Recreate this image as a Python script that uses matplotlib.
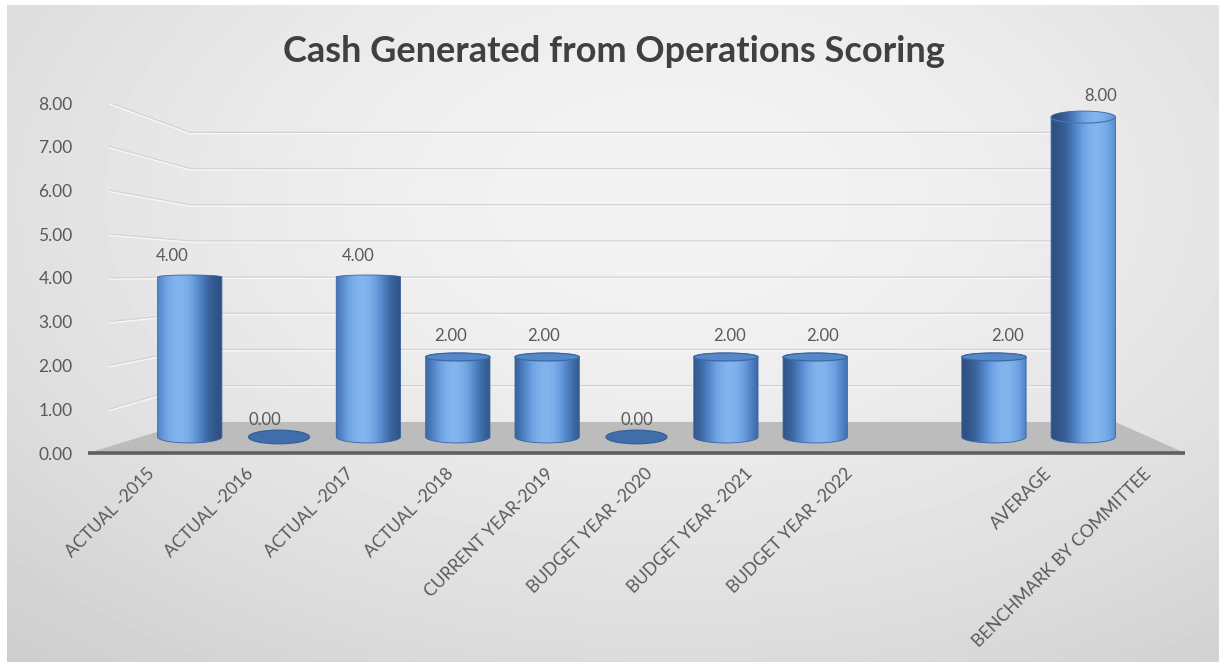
import numpy as np
import matplotlib
matplotlib.use("Agg")
import matplotlib.pyplot as plt
from matplotlib.path import Path
from matplotlib.patches import PathPatch, Polygon, Ellipse, Rectangle
from matplotlib.colors import LinearSegmentedColormap
import matplotlib.transforms as mtransforms

# ---- data -------------------------------------------------------------
categories = ["ACTUAL -2015", "ACTUAL -2016", "ACTUAL -2017", "ACTUAL -2018",
              "CURRENT YEAR-2019", "BUDGET YEAR -2020", "BUDGET YEAR -2021",
              "BUDGET YEAR -2022", "", "AVERAGE", "BENCHMARK BY COMMITTEE"]
scores = [4.0, 0.0, 4.0, 2.0, 2.0, 0.0, 2.0, 2.0, np.nan, 2.0, 8.0]
y_ticks = [0, 1, 2, 3, 4, 5, 6, 7, 8]
title = "Cash Generated from Operations Scoring"

FONT = ["Lato", "DejaVu Sans"]
TXT = "#595959"

W, H, DPI = 1219, 662, 100
fig = plt.figure(figsize=(W / DPI, H / DPI), dpi=DPI)

# ---- soft grey backdrop ----------------------------------------------
bg = fig.add_axes([0, 0, 1, 1], zorder=-10)
gx, gy = np.meshgrid(np.linspace(0, 1, 400), np.linspace(0, 1, 220))
r = np.sqrt(((gx - 0.55) / 0.75) ** 2 + ((gy - 0.30) / 0.85) ** 2)
shade = np.clip(0.955 - 0.13 * r ** 1.6, 0.80, 0.96)
bg.imshow(shade, cmap="gray", vmin=0, vmax=1, extent=[0, 1, 0, 1],
          origin="upper", aspect="auto", interpolation="bilinear")
bg.add_patch(Rectangle((0, 1 - 5 / H), 1, 5 / H, color="white", lw=0))
bg.add_patch(Rectangle((0, 0), 7 / W, 1, color="white", lw=0))
bg.set_xlim(0, 1)
bg.set_ylim(0, 1)
bg.axis("off")

# ---- main axes (front plane coordinates) -------------------------------
L, R, T, B = 88, 1185, 103, 453
ax = fig.add_axes([L / W, 1 - B / H, (R - L) / W, (B - T) / H])
ax.set_xlim(-0.5, len(categories) - 0.5)
ax.set_ylim(0, 8)
ax.patch.set_alpha(0)
for s in ax.spines.values():
    s.set_visible(False)

PX_Y = (B - T) / 8.0          # pixels per value unit on the front plane

# depth projection of the bar plane and the back wall onto the front plane
BAR_SX, BAR_CX = 0.896, 5.0
BAR_SY, BAR_CY = 0.914, 4.26
WALL_SY, WALL_CY = 0.827, 4.1
WALL_X0, WALL_X1 = 0.523, 9.80
SIDE_X = -0.28
EYE = 4.0


def bar_x(i):
    return BAR_CX + (i - BAR_CX) * BAR_SX


def bar_y(v):
    return BAR_CY + (v - BAR_CY) * BAR_SY


def wall_y(v):
    return WALL_CY + (v - WALL_CY) * WALL_SY


# back wall and left side wall gridlines
for v in y_ticks[1:]:
    yw = wall_y(v)
    ax.plot([SIDE_X, WALL_X0, WALL_X1], [v, yw, yw], color="#d2d2d2",
            lw=1.1, zorder=1, solid_capstyle="butt")
    ax.plot([SIDE_X, WALL_X0, WALL_X1], [v - 1.2 / PX_Y, yw - 1.2 / PX_Y, yw - 1.2 / PX_Y],
            color="#f7f7f7", lw=1.0, zorder=1)

# floor
floor = Polygon([(-0.5, 0), (WALL_X0, wall_y(0)), (WALL_X1, wall_y(0)), (10.5, 0)],
                closed=True, facecolor="#bcbcbc", edgecolor="none", zorder=2)
ax.add_patch(floor)
ax.plot([-0.5, 10.5], [0, 0], color="#5f5f5f", lw=2.6, zorder=3,
        solid_capstyle="butt", clip_on=False)

# cylinder shading
body_cmap = LinearSegmentedColormap.from_list(
    "cyl", ["#2d4e80", "#4a7ec0", "#6c9fe0", "#82b5ee"])
bar_w = 0.645


def ellipse_pts(cx, cy, w, h, t0, t1, n=60):
    t = np.linspace(t0, t1, n)
    return np.column_stack([cx + w / 2 * np.cos(t), cy + h * np.sin(t)])


for i, v in enumerate(scores):
    if np.isnan(v):
        continue
    cx = bar_x(i)
    yb = bar_y(0)
    hb = (4 + 0.05 * abs(yb - EYE) * PX_Y) / 2 / PX_Y
    lx = cx + (i - 5) * 0.035
    if v == 0:
        ax.add_patch(Ellipse((cx, yb), bar_w * 0.95, 2.3 * hb, facecolor="#3f6eab",
                             edgecolor="#315d98", lw=0.8, zorder=5))
        ax.text(lx, yb + 17 / PX_Y, f"{v:.2f}", ha="center", va="center",
                fontsize=12, color=TXT, family=FONT, zorder=8)
        continue
    yt = bar_y(v)
    ht = (4 + 0.05 * abs(yt - EYE) * PX_Y) / 2 / PX_Y
    left, right = cx - bar_w / 2, cx + bar_w / 2
    pts = [(left, yt), (left, yb)]
    pts += list(ellipse_pts(cx, yb, bar_w, hb, np.pi, 2 * np.pi))
    pts += [(right, yt)]
    pts += list(ellipse_pts(cx, yt, bar_w, ht, 0, np.pi))
    pts.append(pts[0])
    path = Path(pts, closed=True)
    outline = PathPatch(path, facecolor="none", edgecolor="#3a64a0", lw=0.6, zorder=6)
    ax.add_patch(outline)

    # horizontal shading, highlight drifting right across the chart
    p = 0.32 + 0.038 * i
    t = np.linspace(0, 1, 200)
    val = np.exp(-((t - p) / 0.34) ** 2)
    img = body_cmap(val)[None, :, :]
    im = ax.imshow(img, extent=[left, right, yb - hb, yt + ht], aspect="auto",
                   origin="lower", interpolation="bilinear", zorder=5)
    im.set_clip_path(PathPatch(path, transform=ax.transData))

    if yt < EYE - 0.05:
        ax.add_patch(Ellipse((cx, yt), bar_w, 2 * ht, facecolor="#5587c9",
                             edgecolor="#3c68a4", lw=0.9, zorder=7))
    elif yt > EYE + 0.05:
        rim = ellipse_pts(cx, yt, bar_w, ht, np.pi, 2 * np.pi)
        ax.plot(rim[:, 0], rim[:, 1], color="#4777b5", lw=0.9, zorder=7)

    ax.text(lx, yt + 21 / PX_Y, f"{v:.2f}", ha="center", va="center",
            fontsize=12, color=TXT, family=FONT, zorder=8, clip_on=False)

# axes ticks and labels
ax.set_yticks(y_ticks)
ax.set_yticklabels([f"{t:.2f}" for t in y_ticks], fontsize=12.5, color=TXT,
                   family=FONT)
ax.tick_params(axis="y", length=0, pad=11)
ax.set_xticks(range(len(categories)))
ax.set_xticklabels(categories, rotation=45, ha="right", rotation_mode="anchor",
                   fontsize=12.5, color=TXT, family=FONT)
ax.tick_params(axis="x", length=0, pad=9)
shift = mtransforms.ScaledTranslation(8 / DPI, 0, fig.dpi_scale_trans)
for lab in ax.get_xticklabels():
    lab.set_transform(lab.get_transform() + shift)

fig.text(614 / W, 1 - 52 / H, title, ha="center", va="center", fontsize=26,
         fontweight="bold", color="#404040", family=FONT)

fig.savefig("out.png", dpi=DPI)
